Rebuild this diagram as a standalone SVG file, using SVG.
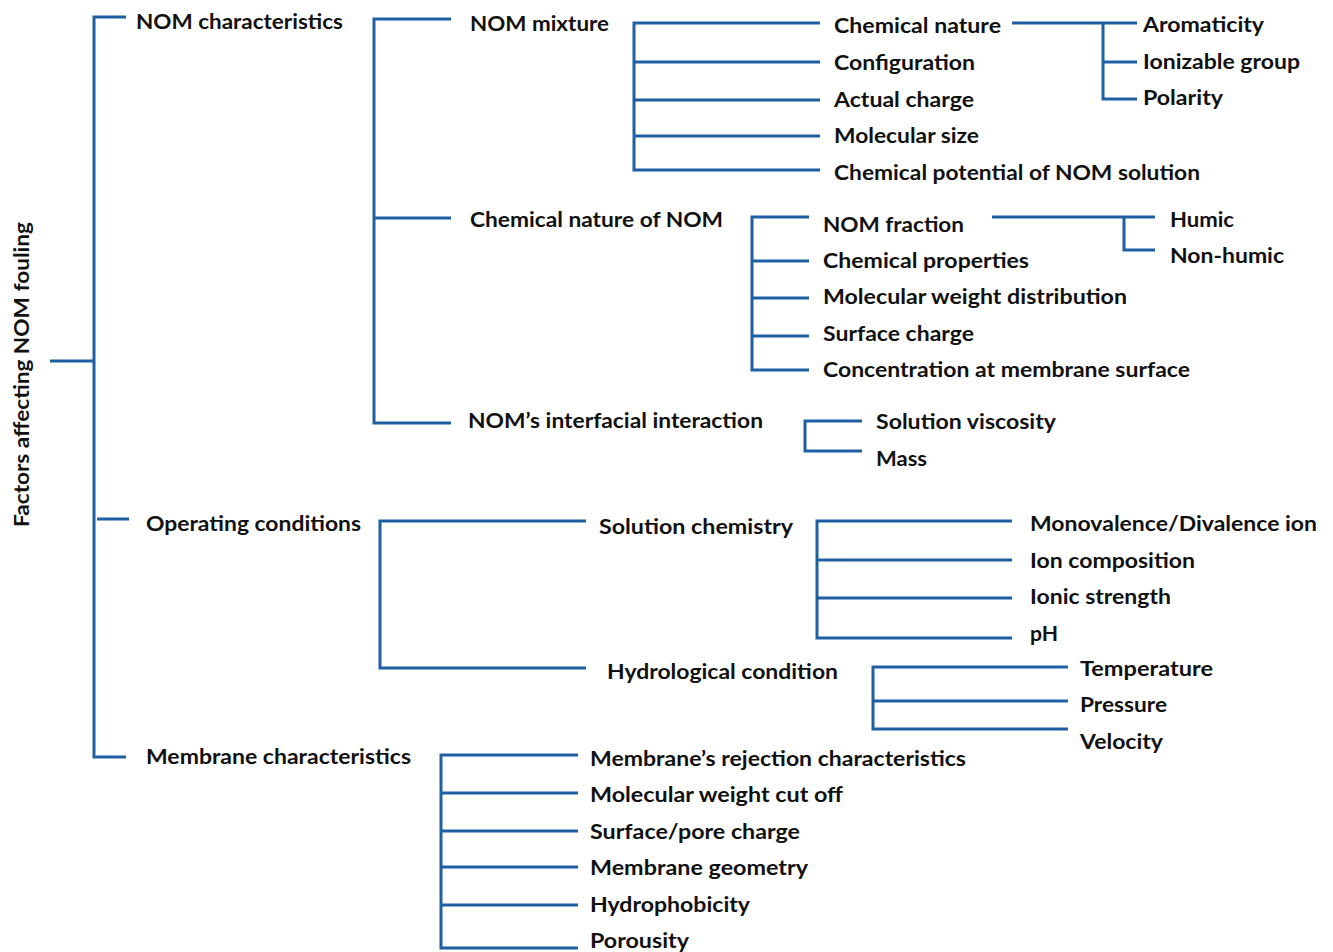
<svg xmlns="http://www.w3.org/2000/svg" width="1333" height="952" viewBox="0 0 1333 952">
<style>
text{font-family:Lato,"Open Sans","Liberation Sans",sans-serif;font-weight:bold;font-size:20px;fill:#111111}
.c{fill:none;stroke:#1f5fa3;stroke-width:3;stroke-linecap:butt;stroke-linejoin:miter}
</style>
<rect width="1333" height="952" fill="#ffffff"/>
<g id="connectors" class="c">
<path d="M50 361H94M126 17H94V757H126M97 519H129"/>
<path d="M451 19H374V423H451M374 218H451"/>
<path d="M820 23H634V170H820M634 62H820M634 100H820M634 136H820"/>
<path d="M1012 23H1137M1103 23V99H1137M1103 62H1137"/>
<path d="M809 217H752V370H809M752 261H809M752 298H809M752 336H809"/>
<path d="M992 217H1155M1124 217V250H1155"/>
<path d="M862 421H805V451H862"/>
<path d="M586 521H380V668H586"/>
<path d="M1012 521H817V638H1012M817 560H1012M817 598H1012"/>
<path d="M1068 667H873V729H1068M873 701H1068"/>
<path d="M578 755H441V948H578M441 793H578M441 831H578M441 867H578M441 905H578"/>
</g>
<g id="root"><text transform="translate(29,527) rotate(-90)" textLength="305" lengthAdjust="spacingAndGlyphs">Factors affecting NOM fouling</text></g>
<g id="nom-characteristics"><text x="136" y="29" textLength="207" lengthAdjust="spacingAndGlyphs">NOM characteristics</text></g>
<g id="nom-mixture"><text x="470" y="31" textLength="139" lengthAdjust="spacingAndGlyphs">NOM mixture</text></g>
<g id="chemical-nature"><text x="834" y="33" textLength="167" lengthAdjust="spacingAndGlyphs">Chemical nature</text></g>
<g id="configuration"><text x="834" y="70" textLength="141" lengthAdjust="spacingAndGlyphs">Configuration</text></g>
<g id="actual-charge"><text x="834" y="107" textLength="140" lengthAdjust="spacingAndGlyphs">Actual charge</text></g>
<g id="molecular-size"><text x="834" y="143" textLength="145" lengthAdjust="spacingAndGlyphs">Molecular size</text></g>
<g id="chemical-potential"><text x="834" y="180" textLength="366" lengthAdjust="spacingAndGlyphs">Chemical potential of NOM solution</text></g>
<g id="aromaticity"><text x="1143" y="32" textLength="121" lengthAdjust="spacingAndGlyphs">Aromaticity</text></g>
<g id="ionizable-group"><text x="1143" y="69" textLength="157" lengthAdjust="spacingAndGlyphs">Ionizable group</text></g>
<g id="polarity"><text x="1143" y="105" textLength="80" lengthAdjust="spacingAndGlyphs">Polarity</text></g>
<g id="chemical-nature-of-nom"><text x="470" y="227" textLength="253" lengthAdjust="spacingAndGlyphs">Chemical nature of NOM</text></g>
<g id="nom-fraction"><text x="823" y="232" textLength="141" lengthAdjust="spacingAndGlyphs">NOM fraction</text></g>
<g id="chemical-properties"><text x="823" y="268" textLength="206" lengthAdjust="spacingAndGlyphs">Chemical properties</text></g>
<g id="mwd"><text x="823" y="304" textLength="304" lengthAdjust="spacingAndGlyphs">Molecular weight distribution</text></g>
<g id="surface-charge"><text x="823" y="341" textLength="151" lengthAdjust="spacingAndGlyphs">Surface charge</text></g>
<g id="concentration"><text x="823" y="377" textLength="367" lengthAdjust="spacingAndGlyphs">Concentration at membrane surface</text></g>
<g id="humic"><text x="1170" y="227" textLength="64" lengthAdjust="spacingAndGlyphs">Humic</text></g>
<g id="non-humic"><text x="1170" y="263" textLength="114" lengthAdjust="spacingAndGlyphs">Non-humic</text></g>
<g id="interfacial"><text x="468" y="428" textLength="295" lengthAdjust="spacingAndGlyphs">NOM’s interfacial interaction</text></g>
<g id="solution-viscosity"><text x="876" y="429" textLength="180" lengthAdjust="spacingAndGlyphs">Solution viscosity</text></g>
<g id="mass"><text x="876" y="466" textLength="51" lengthAdjust="spacingAndGlyphs">Mass</text></g>
<g id="operating-conditions"><text x="146" y="531" textLength="215" lengthAdjust="spacingAndGlyphs">Operating conditions</text></g>
<g id="solution-chemistry"><text x="599" y="534" textLength="194" lengthAdjust="spacingAndGlyphs">Solution chemistry</text></g>
<g id="mono-di"><text x="1030" y="531" textLength="287" lengthAdjust="spacingAndGlyphs">Monovalence/Divalence ion</text></g>
<g id="ion-composition"><text x="1030" y="568" textLength="165" lengthAdjust="spacingAndGlyphs">Ion composition</text></g>
<g id="ionic-strength"><text x="1030" y="604" textLength="141" lengthAdjust="spacingAndGlyphs">Ionic strength</text></g>
<g id="ph"><text x="1030" y="641" textLength="28" lengthAdjust="spacingAndGlyphs">pH</text></g>
<g id="hydrological"><text x="607" y="679" textLength="231" lengthAdjust="spacingAndGlyphs">Hydrological condition</text></g>
<g id="temperature"><text x="1080" y="676" textLength="133" lengthAdjust="spacingAndGlyphs">Temperature</text></g>
<g id="pressure"><text x="1080" y="712" textLength="87" lengthAdjust="spacingAndGlyphs">Pressure</text></g>
<g id="velocity"><text x="1080" y="749" textLength="83" lengthAdjust="spacingAndGlyphs">Velocity</text></g>
<g id="membrane-characteristics"><text x="146" y="764" textLength="265" lengthAdjust="spacingAndGlyphs">Membrane characteristics</text></g>
<g id="rejection"><text x="590" y="766" textLength="376" lengthAdjust="spacingAndGlyphs">Membrane’s rejection characteristics</text></g>
<g id="mwco"><text x="590" y="802" textLength="253" lengthAdjust="spacingAndGlyphs">Molecular weight cut off</text></g>
<g id="surface-pore"><text x="590" y="839" textLength="210" lengthAdjust="spacingAndGlyphs">Surface/pore charge</text></g>
<g id="geometry"><text x="590" y="875" textLength="218" lengthAdjust="spacingAndGlyphs">Membrane geometry</text></g>
<g id="hydrophobicity"><text x="590" y="912" textLength="160" lengthAdjust="spacingAndGlyphs">Hydrophobicity</text></g>
<g id="porousity"><text x="590" y="948" textLength="99" lengthAdjust="spacingAndGlyphs">Porousity</text></g>
</svg>
